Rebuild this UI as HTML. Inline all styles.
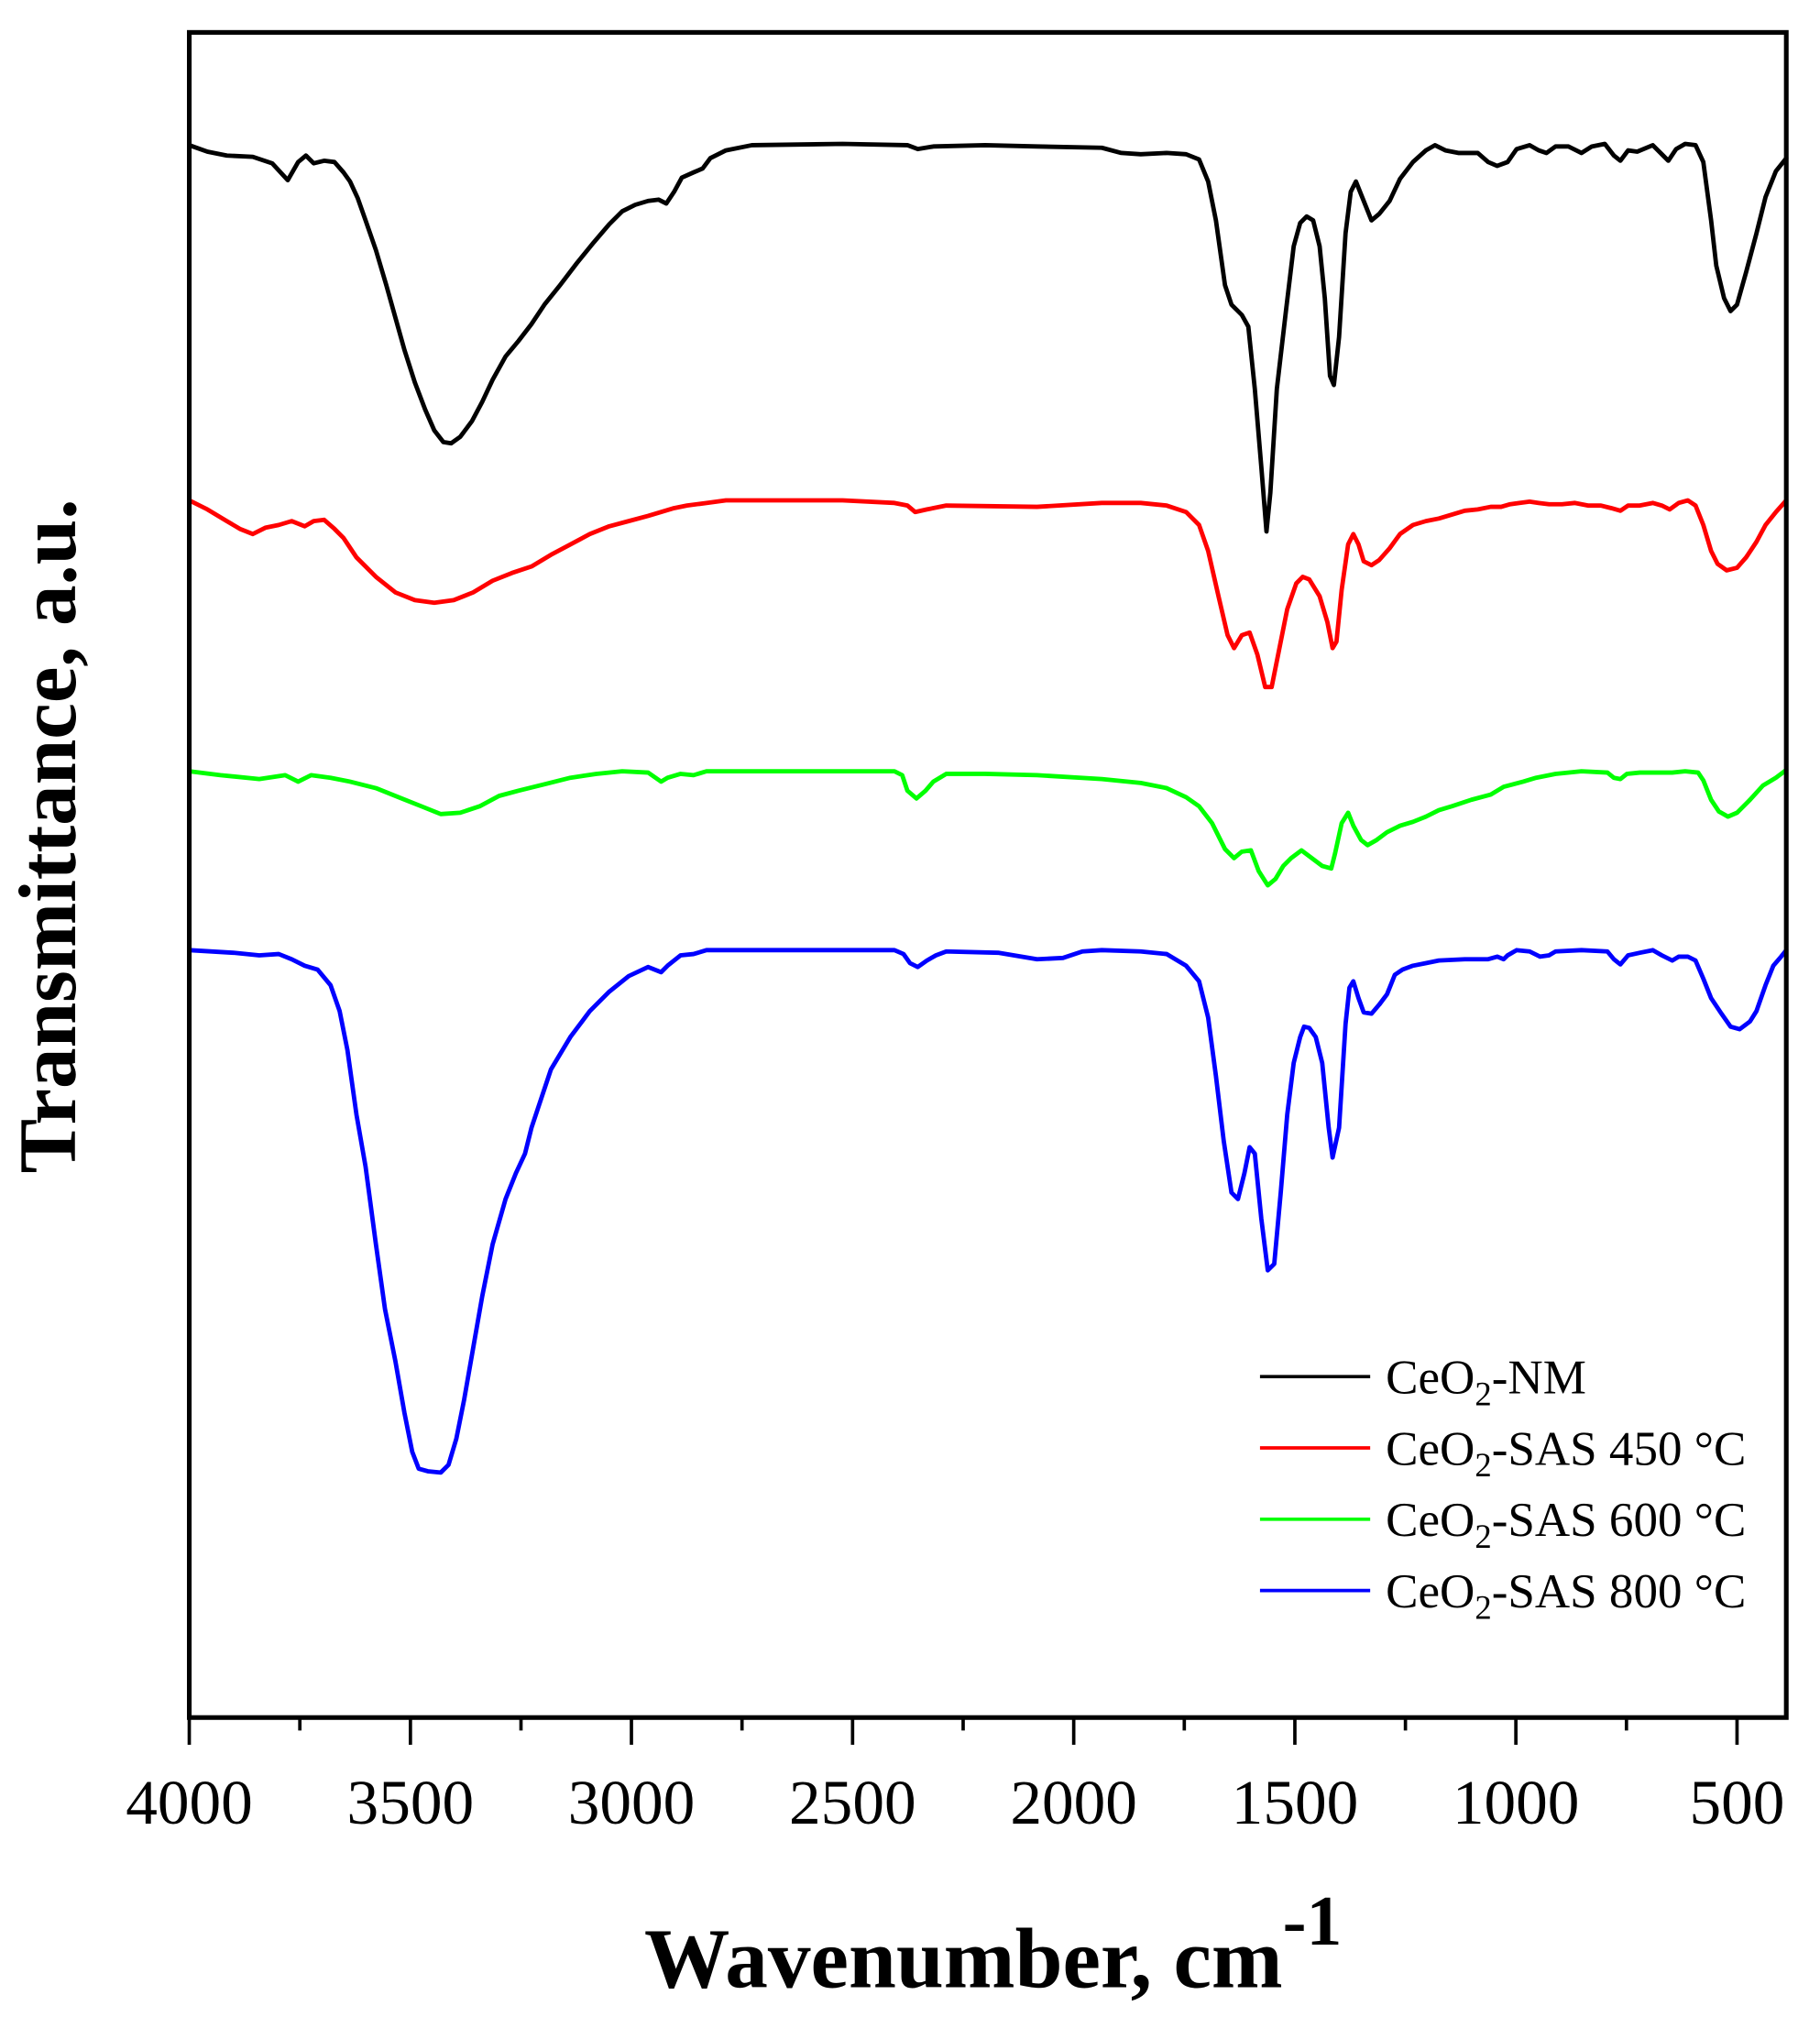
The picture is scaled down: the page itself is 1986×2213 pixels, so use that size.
<!DOCTYPE html>
<html><head><meta charset="utf-8"><style>html,body{margin:0;padding:0;background:#fff}svg{display:block}</style></head><body>
<svg width="1986" height="2213" viewBox="0 0 1404 1564.5" xmlns="http://www.w3.org/2000/svg" font-family="'Liberation Serif', serif">
<rect width="1404" height="1564.5" fill="#fff"/>
<g fill="none" stroke-width="3.4" stroke-linejoin="round" stroke-linecap="round">
<polyline stroke="#000" points="146,112 160,117 175,120 195,121 210,126 222,139 230,125 236,120 242,126 250,124 258,125 265,133 270,140 276,153 282,170 290,193 298,220 305,245 312,270 320,295 328,316 335,332 342,341 348,342 355,337 364,325 372,310 380,293 390,275 400,263 410,250 420,235 432,220 445,203 458,187 470,173 480,163 490,158 500,155 508,154 514,157 520,148 526,137 535,133 542,130 548,122 560,116 580,112 650,111 700,112 708,115 720,113 760,112 800,113 850,114 865,118 880,119 900,118 915,119 925,123 932,140 938,170 945,220 950,235 958,243 963,252 968,300 973,360 977,410 980,380 985,300 992,240 998,190 1003,172 1008,167 1013,170 1018,190 1022,230 1026,290 1029,297 1033,260 1038,180 1042,148 1046,140 1050,150 1054,160 1058,170 1064,165 1072,155 1080,138 1090,125 1100,116 1107,112 1115,116 1125,118 1140,118 1148,125 1155,128 1163,125 1170,115 1180,112 1187,116 1193,118 1200,113 1210,113 1220,118 1228,113 1238,111 1245,120 1250,124 1256,116 1263,117 1275,112 1283,120 1287,124 1293,115 1300,111 1308,112 1314,125 1320,170 1324,205 1330,230 1335,240 1340,235 1347,210 1355,180 1362,152 1370,132 1378,122"/>
<polyline stroke="#f00" points="146,386 160,393 175,402 185,408 195,412 205,407 215,405 225,402 235,406 242,402 250,401 258,408 265,415 275,430 290,445 305,457 320,463 335,465 350,463 365,457 380,448 395,442 410,437 425,428 440,420 455,412 470,406 485,402 500,398 510,395 520,392 530,390 545,388 560,386 650,386 690,388 700,390 706,395 715,393 730,390 800,391 850,388 880,388 900,390 915,395 925,405 932,425 940,460 947,490 952,500 958,490 964,488 970,505 976,530 981,530 987,500 993,470 1000,450 1005,445 1010,447 1018,460 1024,480 1028,500 1031,495 1035,455 1040,420 1044,412 1048,420 1052,433 1058,436 1064,432 1072,423 1080,412 1090,405 1100,402 1110,400 1120,397 1130,394 1140,393 1150,391 1158,391 1165,389 1172,388 1180,387 1187,388 1195,389 1205,389 1215,388 1225,390 1235,390 1243,392 1250,394 1256,390 1265,390 1275,388 1282,390 1288,393 1295,388 1302,386 1308,390 1314,405 1320,425 1325,435 1332,440 1340,438 1347,430 1355,418 1362,405 1370,395 1378,386"/>
<polyline stroke="#0f0" points="146,595 170,598 200,601 220,598 230,603 240,598 255,600 270,603 290,608 310,616 325,622 340,628 355,627 370,622 385,614 400,610 420,605 440,600 460,597 480,595 500,596 510,603 515,600 525,597 535,598 545,595 600,595 690,595 696,598 700,610 707,616 714,610 720,603 730,597 760,597 800,598 850,601 880,604 900,608 915,615 925,622 935,635 945,655 952,662 958,657 965,656 971,672 978,683 984,678 990,668 996,662 1004,656 1012,662 1020,668 1027,670 1030,658 1035,635 1040,627 1044,637 1050,648 1055,652 1062,648 1070,642 1080,637 1090,634 1100,630 1110,625 1120,622 1135,617 1150,613 1160,607 1175,603 1185,600 1200,597 1220,595 1240,596 1245,600 1250,601 1255,597 1265,596 1280,596 1290,596 1300,595 1310,596 1314,602 1320,617 1326,626 1333,630 1340,627 1350,617 1360,606 1370,600 1378,594"/>
<polyline stroke="#00f" points="146,733 180,735 200,737 215,736 225,740 235,745 245,748 255,760 262,780 268,810 275,860 282,900 290,960 297,1010 305,1050 312,1090 318,1120 323,1133 330,1135 340,1136 346,1130 352,1110 358,1080 365,1040 372,1000 380,960 390,925 398,905 405,890 410,870 415,855 425,825 440,800 455,780 470,765 485,753 500,746 510,750 515,745 525,737 535,736 545,733 600,733 690,733 697,736 702,743 708,746 715,741 722,737 730,734 770,735 800,740 820,739 835,734 850,733 880,734 900,736 915,745 925,757 932,785 938,830 944,880 950,920 955,925 960,905 964,885 968,890 973,940 978,980 983,975 988,920 993,860 998,820 1003,800 1006,792 1010,793 1015,800 1020,820 1025,870 1028,893 1033,870 1038,790 1041,762 1044,757 1048,770 1052,781 1058,782 1064,775 1070,767 1076,752 1082,748 1090,745 1100,743 1110,741 1130,740 1148,740 1155,738 1160,740 1163,737 1170,733 1180,734 1188,738 1195,737 1200,734 1220,733 1240,734 1245,740 1250,744 1256,737 1265,735 1275,733 1282,737 1290,741 1295,738 1302,738 1308,741 1314,755 1320,770 1328,782 1335,792 1342,794 1350,788 1355,780 1362,760 1368,745 1374,738 1378,733"/>
</g>
<rect x="146" y="25" width="1232" height="1300" fill="none" stroke="#000" stroke-width="3.6"/>
<g stroke="#000" stroke-width="2.6">
<line x1="146" y1="1325" x2="146" y2="1346"/><line x1="316.6" y1="1325" x2="316.6" y2="1346"/><line x1="487.1" y1="1325" x2="487.1" y2="1346"/><line x1="657.7" y1="1325" x2="657.7" y2="1346"/><line x1="828.3" y1="1325" x2="828.3" y2="1346"/><line x1="998.9" y1="1325" x2="998.9" y2="1346"/><line x1="1169.4" y1="1325" x2="1169.4" y2="1346"/><line x1="1340" y1="1325" x2="1340" y2="1346"/>
<line x1="231.3" y1="1325" x2="231.3" y2="1335"/><line x1="401.9" y1="1325" x2="401.9" y2="1335"/><line x1="572.4" y1="1325" x2="572.4" y2="1335"/><line x1="743" y1="1325" x2="743" y2="1335"/><line x1="913.6" y1="1325" x2="913.6" y2="1335"/><line x1="1084.2" y1="1325" x2="1084.2" y2="1335"/><line x1="1254.7" y1="1325" x2="1254.7" y2="1335"/>
</g>
<g font-size="49" text-anchor="middle" fill="#000">
<text x="146" y="1407">4000</text><text x="316.6" y="1407">3500</text><text x="487.1" y="1407">3000</text><text x="657.7" y="1407">2500</text><text x="828.3" y="1407">2000</text><text x="998.9" y="1407">1500</text><text x="1169.4" y="1407">1000</text><text x="1340" y="1407">500</text>
</g>
<text x="497" y="1533" font-size="66" font-weight="bold">Wavenumber, cm<tspan dy="-33" font-size="55">-1</tspan></text>
<text transform="translate(58,645) rotate(-90)" text-anchor="middle" font-size="63" font-weight="bold">Transmittance, a.u.</text>
<g stroke-width="2.6">
<line x1="972" y1="1062" x2="1057" y2="1062" stroke="#000"/>
<line x1="972" y1="1117" x2="1057" y2="1117" stroke="#f00"/>
<line x1="972" y1="1172" x2="1057" y2="1172" stroke="#0f0"/>
<line x1="972" y1="1227" x2="1057" y2="1227" stroke="#00f"/>
</g>
<g font-size="37.5" fill="#000">
<text x="1069" y="1075">CeO<tspan dy="9" font-size="26">2</tspan><tspan dy="-9">-NM</tspan></text>
<text x="1069" y="1130">CeO<tspan dy="9" font-size="26">2</tspan><tspan dy="-9">-SAS 450 °C</tspan></text>
<text x="1069" y="1185">CeO<tspan dy="9" font-size="26">2</tspan><tspan dy="-9">-SAS 600 °C</tspan></text>
<text x="1069" y="1240">CeO<tspan dy="9" font-size="26">2</tspan><tspan dy="-9">-SAS 800 °C</tspan></text>
</g>
</svg>
</body></html>
